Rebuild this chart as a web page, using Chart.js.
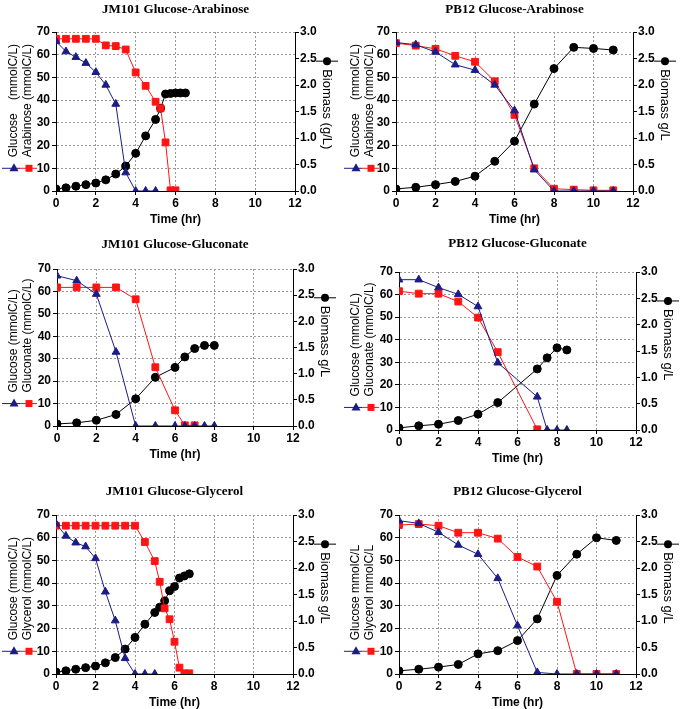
<!DOCTYPE html>
<html>
<head>
<meta charset="utf-8">
<script src="https://cdn.jsdelivr.net/npm/chart.js@4.4.1/dist/chart.umd.min.js"></script>
<style>
  html, body { margin: 0; padding: 0; background: #fff; }
  body { width: 685px; height: 709px; position: relative; overflow: hidden; }
  canvas { position: absolute; }
</style>
</head>
<body>
<canvas id="p1" width="342" height="232" style="left:0;top:0"></canvas>
<canvas id="p2" width="343" height="232" style="left:342px;top:0"></canvas>
<canvas id="p3" width="342" height="233" style="left:0;top:232px"></canvas>
<canvas id="p4" width="343" height="233" style="left:342px;top:232px"></canvas>
<canvas id="p5" width="342" height="244" style="left:0;top:465px"></canvas>
<canvas id="p6" width="343" height="244" style="left:342px;top:465px"></canvas>
<script>
// shared axes
const timeTicks = [0, 2, 4, 6, 8, 10, 12];
const substrateTicks = [0, 10, 20, 30, 40, 50, 60, 70];
const biomassTicks = [0, 0.5, 1.0, 1.5, 2.0, 2.5, 3.0];

// JM101 glucose-arabinose
const jmAraGlcTime = [0, 0.5, 1, 1.5, 2, 2.5, 3, 3.5, 4, 4.5, 5];
const jmAraGlc = [65.9, 61.4, 58.9, 56.3, 52.3, 46.7, 38.3, 8.1, 0, 0, 0];
const jmAraSubTime = [0, 0.5, 1, 1.5, 2, 2.5, 3, 3.5, 4, 4.5, 5, 5.25, 5.5, 5.75, 6];
const jmAraSub = [67, 67, 67, 67, 67, 64.1, 63.8, 62.3, 52.2, 46.3, 39.3, 36.4, 21.4, 0.3, 0.3];
const jmAraBioTime = [0, 0.5, 1, 1.5, 2, 2.5, 3, 3.5, 4, 4.5, 5, 5.25, 5.5, 5.75, 6, 6.25, 6.5];
const jmAraBio = [0.04, 0.06, 0.09, 0.12, 0.15, 0.21, 0.32, 0.47, 0.71, 1.04, 1.35, 1.56, 1.83, 1.84, 1.85, 1.85, 1.85];

// PB12 glucose-arabinose
const pbAraTime = [0, 1, 2, 3, 4, 5, 6, 7, 8, 9, 10, 11];
const pbAraGlc = [65.4, 64.4, 61.2, 55.6, 53.2, 46.7, 35.4, 9.4, 0, 0, 0, 0];
const pbAraSub = [65.1, 64, 62.6, 59.5, 56.9, 48.3, 33.5, 10, 1, 0.6, 0.3, 0.3];
const pbAraBio = [0.04, 0.07, 0.12, 0.18, 0.28, 0.56, 0.94, 1.64, 2.31, 2.71, 2.69, 2.66];

// JM101 glucose-gluconate
const jmGncGlcTime = [0, 1, 2, 3, 4, 5, 6, 6.5, 7, 7.5, 8];
const jmGncGlc = [67, 64.8, 58.8, 33, 0, 0, 0, 0, 0, 0, 0];
const jmGncSubTime = [0, 1, 2, 3, 4, 5, 6, 6.5, 7];
const jmGncSub = [61.8, 61.8, 61.8, 61.8, 56.5, 26.2, 7, 0.3, 0.3];
const jmGncBioTime = [0, 1, 2, 3, 4, 5, 6, 6.5, 7, 7.5, 8];
const jmGncBio = [0.04, 0.06, 0.11, 0.22, 0.52, 0.93, 1.12, 1.32, 1.48, 1.54, 1.54];

// PB12 glucose-gluconate
const pbGncTime = [0, 1, 2, 3, 4, 5, 7, 7.5, 8, 8.5];
const pbGncGlc = [66.6, 66.6, 63.1, 60.1, 54.7, 29.8, 14.7, 0, 0, 0];
const pbGncSubTime = [0, 1, 2, 3, 4, 5, 7];
const pbGncSub = [61.5, 60.4, 60.4, 56.9, 49.8, 34.5, 0.3];
const pbGncBio = [0.04, 0.08, 0.11, 0.18, 0.3, 0.52, 1.16, 1.37, 1.56, 1.52];

// JM101 glucose-glycerol
const jmGlyGlcTime = [0, 0.5, 1, 1.5, 2, 2.5, 3, 3.5, 4, 4.5, 5];
const jmGlyGlc = [66.2, 60.8, 57.8, 56.1, 50.9, 36.2, 23.5, 6.9, 0, 0, 0];
const jmGlyTime = [0, 0.5, 1, 1.5, 2, 2.5, 3, 3.5, 4, 4.5, 5, 5.25, 5.5, 5.75, 6, 6.25, 6.5, 6.75];
const jmGlySub = [65.3, 65.3, 65.3, 65.3, 65.3, 65.3, 65.3, 65.3, 65.3, 58.1, 49.7, 40.6, 28.9, 24.1, 14.2, 2.8, 0.3, 0.3];
const jmGlyBio = [0.04, 0.06, 0.09, 0.12, 0.15, 0.21, 0.31, 0.47, 0.69, 0.94, 1.16, 1.26, 1.38, 1.57, 1.65, 1.81, 1.85, 1.89];

// PB12 glucose-glycerol
const pbGlyTime = [0, 1, 2, 3, 4, 5, 6, 7, 8, 9, 10, 11];
const pbGlyGlc = [67.5, 66.3, 62.4, 56.8, 52.7, 42.1, 21.3, 0.7, 0, 0, 0, 0];
const pbGlySub = [65.6, 66, 65.3, 62.2, 62.2, 59.6, 51.5, 47.3, 31.8, 0, 0, 0];
const pbGlyBio = [0.06, 0.09, 0.13, 0.18, 0.38, 0.44, 0.63, 1.04, 1.86, 2.26, 2.57, 2.52];

const NAVY = "#1c1c86";
const RED = "#ff1414";
const BLACK = "#000";
const GRID = "#9a9a9a";
const tickFont = { family: "'Liberation Sans', Arial, sans-serif", size: 12, weight: "bold" };

const pts = (t, v) => t.map((x, i) => ({ x: x, y: v[i] }));

function drawMark(ctx, kind, x, y, color) {
    ctx.fillStyle = color;
    ctx.beginPath();
    if (kind === "triangle") {
        ctx.moveTo(x, y - 5);
        ctx.lineTo(x + 4.5, y + 3);
        ctx.lineTo(x - 4.5, y + 3);
        ctx.closePath();
    } else if (kind === "rect") {
        ctx.rect(x - 3.5, y - 3.5, 7, 7);
    } else {
        ctx.arc(x, y, 4, 0, Math.PI * 2);
    }
    ctx.fill();
}

// titles, axis names and the little legend keys beside the axes
const decor = {
    id: "decor",
    afterDraw(chart, args, o) {
        const ctx = chart.ctx;
        const a = chart.chartArea;
        const cx = (a.left + a.right) / 2;
        ctx.save();
        ctx.fillStyle = "#000";
        ctx.textAlign = "center";
        ctx.textBaseline = "middle";
        ctx.font = "bold 13px 'Liberation Serif', 'Times New Roman', serif";
        ctx.fillText(o.title, cx, a.top - o.titleGap);
        ctx.font = "bold 12px 'Liberation Sans', Arial, sans-serif";
        ctx.fillText("Time (hr)", cx, a.bottom + 29);

        // left key: blue triangle + red square
        const ly = chart.scales.y.getPixelForValue(10);
        ctx.lineWidth = 1;
        ctx.strokeStyle = NAVY;
        ctx.beginPath(); ctx.moveTo(2, ly); ctx.lineTo(20, ly); ctx.stroke();
        ctx.strokeStyle = RED;
        ctx.beginPath(); ctx.moveTo(20, ly); ctx.lineTo(37, ly); ctx.stroke();
        drawMark(ctx, "triangle", 14, ly, NAVY);
        drawMark(ctx, "rect", 29, ly, RED);

        ctx.fillStyle = "#000";
        ctx.font = "12px 'Liberation Sans', Arial, sans-serif";
        ctx.textAlign = "left";
        o.left.forEach((t, i) => {
            ctx.save();
            ctx.translate(i === 0 ? 14 : 28, ly - 11);
            ctx.rotate(-Math.PI / 2);
            ctx.fillText(t, 0, 0);
            ctx.restore();
        });

        // right key: black circle
        const rx = a.right + 32;
        const ry = chart.scales.y1.getPixelForValue(2.45);
        ctx.strokeStyle = BLACK;
        ctx.beginPath(); ctx.moveTo(rx - 11, ry); ctx.lineTo(rx + 11, ry); ctx.stroke();
        drawMark(ctx, "circle", rx, ry, BLACK);
        ctx.fillStyle = "#000";
        ctx.font = "13px 'Liberation Sans', Arial, sans-serif";
        ctx.save();
        ctx.translate(rx, ry + 8);
        ctx.rotate(Math.PI / 2);
        ctx.fillText(o.right, 0, 0);
        ctx.restore();
        ctx.restore();
    }
};

function series(data, color, style, radius, axis) {
    return {
        data: data,
        yAxisID: axis,
        borderColor: color,
        backgroundColor: color,
        borderWidth: 1,
        pointStyle: style,
        pointRadius: radius,
        pointBorderWidth: 1,
        pointBackgroundColor: color,
        pointBorderColor: color,
        tension: 0
    };
}

function makePanel(id, area, glc, sub, bio, text) {
    const canvas = document.getElementById(id);
    const W = canvas.width, H = canvas.height;
    const [L, T, R, B] = area;
    new Chart(canvas, {
        type: "line",
        data: {
            datasets: [
                series(glc, NAVY, "triangle", 4.5, "y"),
                series(sub, RED, "rect", 4.8, "y"),
                series(bio, BLACK, "circle", 4, "y1")
            ]
        },
        options: {
            responsive: false,
            animation: false,
            layout: { padding: { top: T, left: 0, right: 0, bottom: 0 } },
            plugins: {
                legend: { display: false },
                tooltip: { enabled: false },
                decor: text
            },
            scales: {
                x: {
                    type: "linear", min: 0, max: 12,
                    afterBuildTicks: s => { s.ticks = timeTicks.map(v => ({ value: v })); },
                    ticks: { font: tickFont, color: "#000", padding: 1.5, maxRotation: 0 },
                    grid: { color: GRID, tickColor: "#000", tickLength: 4 },
                    border: { color: "#000", width: 1, dash: [2, 2] },
                    afterFit: s => { s.height = H - B; }
                },
                y: {
                    position: "left", min: 0, max: 70,
                    afterBuildTicks: s => { s.ticks = substrateTicks.map(v => ({ value: v })); },
                    ticks: { font: tickFont, color: "#000", padding: 2 },
                    grid: { color: GRID, tickColor: "#000", tickLength: 4 },
                    border: { color: "#000", width: 1, dash: [2, 2] },
                    afterFit: s => { s.width = L; }
                },
                y1: {
                    position: "right", min: 0, max: 3,
                    afterBuildTicks: s => { s.ticks = biomassTicks.map(v => ({ value: v })); },
                    ticks: { font: tickFont, color: "#000", padding: 1, callback: v => v.toFixed(1) },
                    grid: { drawOnChartArea: false, color: "#000", tickColor: "#000", tickLength: 4 },
                    border: { color: "#000", width: 1 },
                    afterFit: s => { s.width = W - R; }
                }
            }
        },
        plugins: [decor]
    });
}

makePanel("p1", [56, 32, 295, 191],
    pts(jmAraGlcTime, jmAraGlc), pts(jmAraSubTime, jmAraSub), pts(jmAraBioTime, jmAraBio),
    { title: "JM101 Glucose-Arabinose", titleGap: 22, left: ["Glucose    (mmolC/L)", "Arabinose (mmolC/L)"], right: "Biomass (g/L)" });

makePanel("p2", [54, 32, 291, 191],
    pts(pbAraTime, pbAraGlc), pts(pbAraTime, pbAraSub), pts(pbAraTime, pbAraBio),
    { title: "PB12 Glucose-Arabinose", titleGap: 22, left: ["Glucose    (mmolC/L)", "Arabinose (mmolC/L)"], right: "Biomass g/L" });

makePanel("p3", [57, 37, 293, 194],
    pts(jmGncGlcTime, jmGncGlc), pts(jmGncSubTime, jmGncSub), pts(jmGncBioTime, jmGncBio),
    { title: "JM101 Glucose-Gluconate", titleGap: 24, left: ["Glucose (mmolC/L)", "Gluconate (mmolC/L)"], right: "Biomass g/L" });

makePanel("p4", [57, 40, 294, 198],
    pts(pbGncTime, pbGncGlc), pts(pbGncSubTime, pbGncSub), pts(pbGncTime, pbGncBio),
    { title: "PB12 Glucose-Gluconate", titleGap: 28, left: ["Glucose (mmolC/L)", "Gluconate (mmolC/L)"], right: "Biomass g/L" });

makePanel("p5", [56, 50, 293, 209],
    pts(jmGlyGlcTime, jmGlyGlc), pts(jmGlyTime, jmGlySub), pts(jmGlyTime, jmGlyBio),
    { title: "JM101 Glucose-Glycerol", titleGap: 23, left: ["Glucose (mmolC/L)", "Glycerol (mmolC/L)"], right: "Biomass g/L" });

makePanel("p6", [57, 50, 294, 209],
    pts(pbGlyTime, pbGlyGlc), pts(pbGlyTime, pbGlySub), pts(pbGlyTime, pbGlyBio),
    { title: "PB12 Glucose-Glycerol", titleGap: 23, left: ["Glucose mmolC/L", "Glycerol mmolC/L"], right: "Biomass g/L" });
</script>
</body>
</html>
